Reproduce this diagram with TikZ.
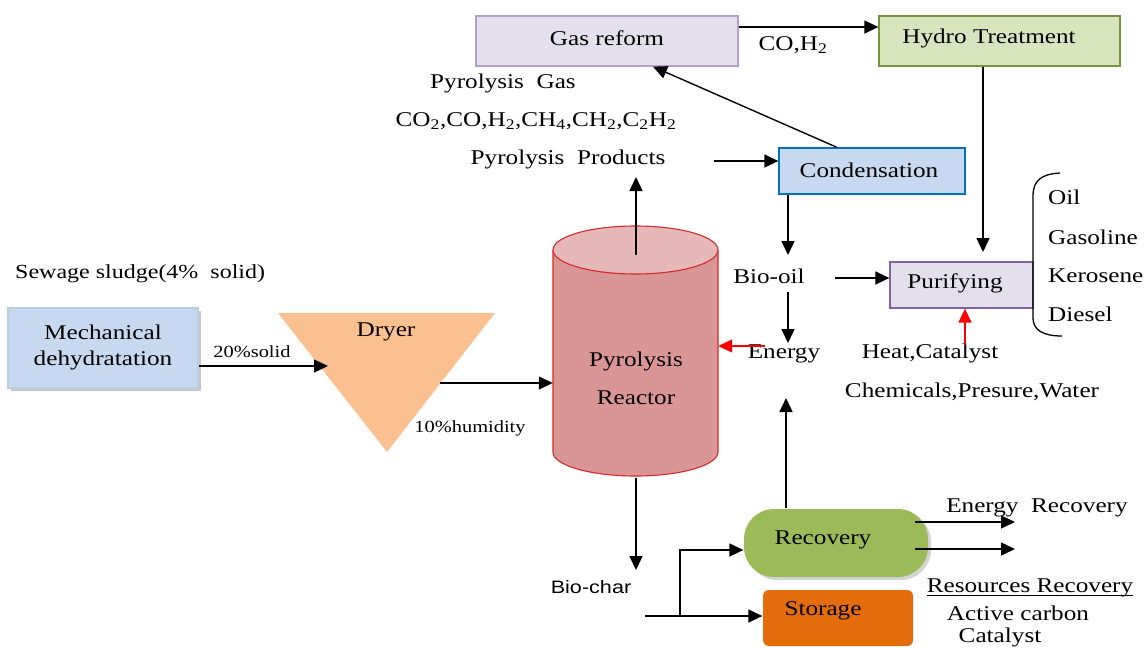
\documentclass[tikz,border=0pt]{standalone}
\usepackage{fontspec}
\setmainfont[FakeStretch=1.2]{Liberation Serif}
\newfontfamily\sansf[FakeStretch=1.2]{Liberation Sans}
\usetikzlibrary{arrows.meta,shadows}
\definecolor{lav}{HTML}{E4DFEC}
\definecolor{lavbd}{HTML}{B3A2C7}
\definecolor{purbd}{HTML}{8064A2}
\definecolor{grn}{HTML}{D7E4BD}
\definecolor{grnbd}{HTML}{77933C}
\definecolor{blu}{HTML}{C6D9F1}
\definecolor{blubd}{HTML}{0070C0}
\definecolor{mechbd}{HTML}{B9CDE5}
\definecolor{dry}{HTML}{FAC090}
\definecolor{cylbody}{HTML}{D99694}
\definecolor{cyltop}{HTML}{E6B9B8}
\definecolor{cylbd}{HTML}{D42A2A}
\definecolor{recov}{HTML}{9BBB59}
\definecolor{stor}{HTML}{E46C0A}
\tikzset{
  lbl/.style={font=\fontsize{21}{25}\selectfont, inner sep=0pt},
  sm/.style={font=\fontsize{17}{20}\selectfont, inner sep=0pt},
  box/.style={line width=1.3pt, inner sep=0pt, font=\fontsize{21}{25}\selectfont},
  arr/.style={-{Triangle[length=14pt,width=13pt]}, line width=1.4pt},
  redarr/.style={arr, red},
  plain/.style={line width=1.3pt}
}
\begin{document}
\begin{tikzpicture}[x=1pt,y=-1pt]
\useasboundingbox (0,0) rectangle (1144,648);

% boxes
\node[box, draw=lavbd, fill=lav, minimum width=262pt, minimum height=50pt] (gas) at (607,41) {};
\node[lbl] at (607,38) {Gas reform};
\node[box, draw=grnbd, fill=grn, minimum width=241pt, minimum height=50pt] (hydro) at (999.5,41) {};
\node[lbl] at (989,38) {Hydro Treatment};
\node[box, draw=blubd, fill=blu, minimum width=186pt, minimum height=46pt] (cond) at (872,171) {};
\node[lbl] at (869,170) {Condensation};
\node[box, draw=purbd, fill=lav, minimum width=143pt, minimum height=46pt] (purify) at (961.5,285) {};
\node[lbl] at (955,283) {Purifying};
\node[box, draw=mechbd, fill=blu, minimum width=190pt, minimum height=80pt,
      drop shadow={opacity=0.45, shadow xshift=3pt, shadow yshift=-3pt}] (mech) at (103,348) {};
\node[lbl, align=center, font=\fontsize{21}{26}\selectfont] (mechtxt) at (103,347) {Mechanical\\dehydratation};
\node[box, fill=recov, rounded corners=30pt, minimum width=184pt, minimum height=68pt,
      drop shadow={opacity=0.35, shadow xshift=3pt, shadow yshift=-3pt}] (recovery) at (836,543) {};
\node[lbl] at (823,540) {Recovery};
\node[box, fill=stor, rounded corners=6pt, minimum width=150pt, minimum height=56pt] (storage) at (838,618) {};
\node[lbl] at (823,611) {Storage};

% dryer
\fill[dry] (278,313) -- (495,313) -- (387,452) -- cycle;
\node[lbl] (dryer) at (386,332) {Dryer};

% reactor cylinder
\node[minimum width=165pt, minimum height=250pt, inner sep=0pt] (reactor) at (635.5,351) {};
\fill[cylbody] (553,250) -- (553,452) arc[start angle=180, end angle=0, x radius=82.5, y radius=24] -- (718,250) -- cycle;
\draw[cylbd, line width=1.1pt] (553,250) -- (553,452) arc[start angle=180, end angle=0, x radius=82.5, y radius=24] -- (718,250);
\filldraw[fill=cyltop, draw=cylbd, line width=1.1pt] (635.5,250) ellipse [x radius=82.5, y radius=24];
\node[lbl, align=center, font=\fontsize{21}{38}\selectfont] (reactortxt) at (636,378) {Pyrolysis\\Reactor};

% text labels
\node[lbl] (pgas) at (503,83) {Pyrolysis\ \ Gas};
\node[lbl] (gases) at (536,121) {CO\textsubscript{2},CO,H\textsubscript{2},CH\textsubscript{4},CH\textsubscript{2},C\textsubscript{2}H\textsubscript{2}};
\node[lbl] (pp) at (568,159) {Pyrolysis\ \ Products};
\node[lbl] (coh) at (793,45) {CO,H\textsubscript{2}};
\node[lbl] (biooil) at (769,276) {Bio-oil};
\node[lbl] (energy) at (784,354) {Energy};
\node[lbl] (heat) at (930,353) {Heat,Catalyst};
\node[lbl] (chem) at (972,392) {Chemicals,Presure,Water};
\node[lbl, anchor=west] (oil) at (1048,197) {Oil};
\node[lbl, anchor=west] (gasoline) at (1048,237) {Gasoline};
\node[lbl, anchor=west] (kerosene) at (1048,276) {Kerosene};
\node[lbl, anchor=west] (diesel) at (1048,314) {Diesel};
\node[lbl, anchor=west, font=\fontsize{20}{24}\selectfont] (sewage) at (15,274) {Sewage sludge(4\%\ \ solid)};
\node[sm] (solid) at (252,352) {20\%solid};
\node[sm] (humid) at (470,428) {10\%humidity};
\node[lbl, font=\sansf\fontsize{18}{22}\selectfont] (biochar) at (591,587) {Bio-char};
\node[lbl] (erec) at (1037,508) {Energy\ \ Recovery};
\node[lbl] (rrec) at (1030,588) {Resources Recovery};
\node[lbl] (acarb) at (1018,613) {Active carbon};
\node[lbl] (catal) at (1000,637) {Catalyst};

% underline and brace
\draw[line width=1pt] ([yshift=-3pt]rrec.base west) -- ([yshift=-3pt]rrec.base east);
\draw[plain] (1060,173) .. controls (1042,174) and (1033,180) .. (1033,196) -- (1033,318) .. controls (1033,330) and (1043,336) .. (1062,336);

% coordinates
\coordinate (ppout) at (714,161);
\coordinate (rtop) at (636,255);
\coordinate (pptip) at (636,177);
\coordinate (biotip) at (788,255);
\coordinate (bioR) at (835,278);
\coordinate (bioD) at (788,292);
\coordinate (entip) at (788,343);
\coordinate (enL) at (765,346);
\coordinate (purtip) at (983,252);
\coordinate (heattop) at (965,345);
\coordinate (drytip) at (328,366);
\coordinate (dryR) at (440,383);
\coordinate (rbot) at (636,478);
\coordinate (chartip) at (636,570);
\coordinate (charL) at (645,616);
\coordinate (branch) at (680,616);
\coordinate (branchup) at (680,550);
\coordinate (rectip) at (786,398);
\coordinate (er1) at (915,522);
\coordinate (er1t) at (1015,522);
\coordinate (er2) at (915,549);
\coordinate (er2t) at (1015,549);

% connectors
\draw[arr] ([yshift=14pt]gas.east) -- ([yshift=14pt]hydro.west);
\draw[arr] ([xshift=-35pt]cond.north) -- ([xshift=46pt]gas.south);
\draw[arr] (ppout) -- (ppout -| cond.west);
\draw[arr] (rtop) -- (pptip);
\draw[arr] ([xshift=-84pt]cond.south) -- (biotip);
\draw[arr] (bioR) -- (bioR -| purify.west);
\draw[arr] (bioD) -- (entip);
\draw[redarr] (enL) -- (enL -| reactor.east);
\draw[arr] ([xshift=-16.5pt]hydro.south) -- (purtip);
\draw[redarr] (heattop) -- (heattop |- purify.south);
\draw[arr] ([yshift=-18pt]mech.east) -- (drytip);
\draw[arr] (dryR) -- (dryR -| reactor.west);
\draw[arr] (rbot) -- (chartip);
\draw[arr] (charL) -- (charL -| storage.west);
\draw[arr] (branch) -- (branchup) -- (branchup -| recovery.west);
\draw[arr] ([xshift=-50pt]recovery.north) -- (rectip);
\draw[arr] (er1) -- (er1t);
\draw[arr] (er2) -- (er2t);
\end{tikzpicture}
\end{document}
